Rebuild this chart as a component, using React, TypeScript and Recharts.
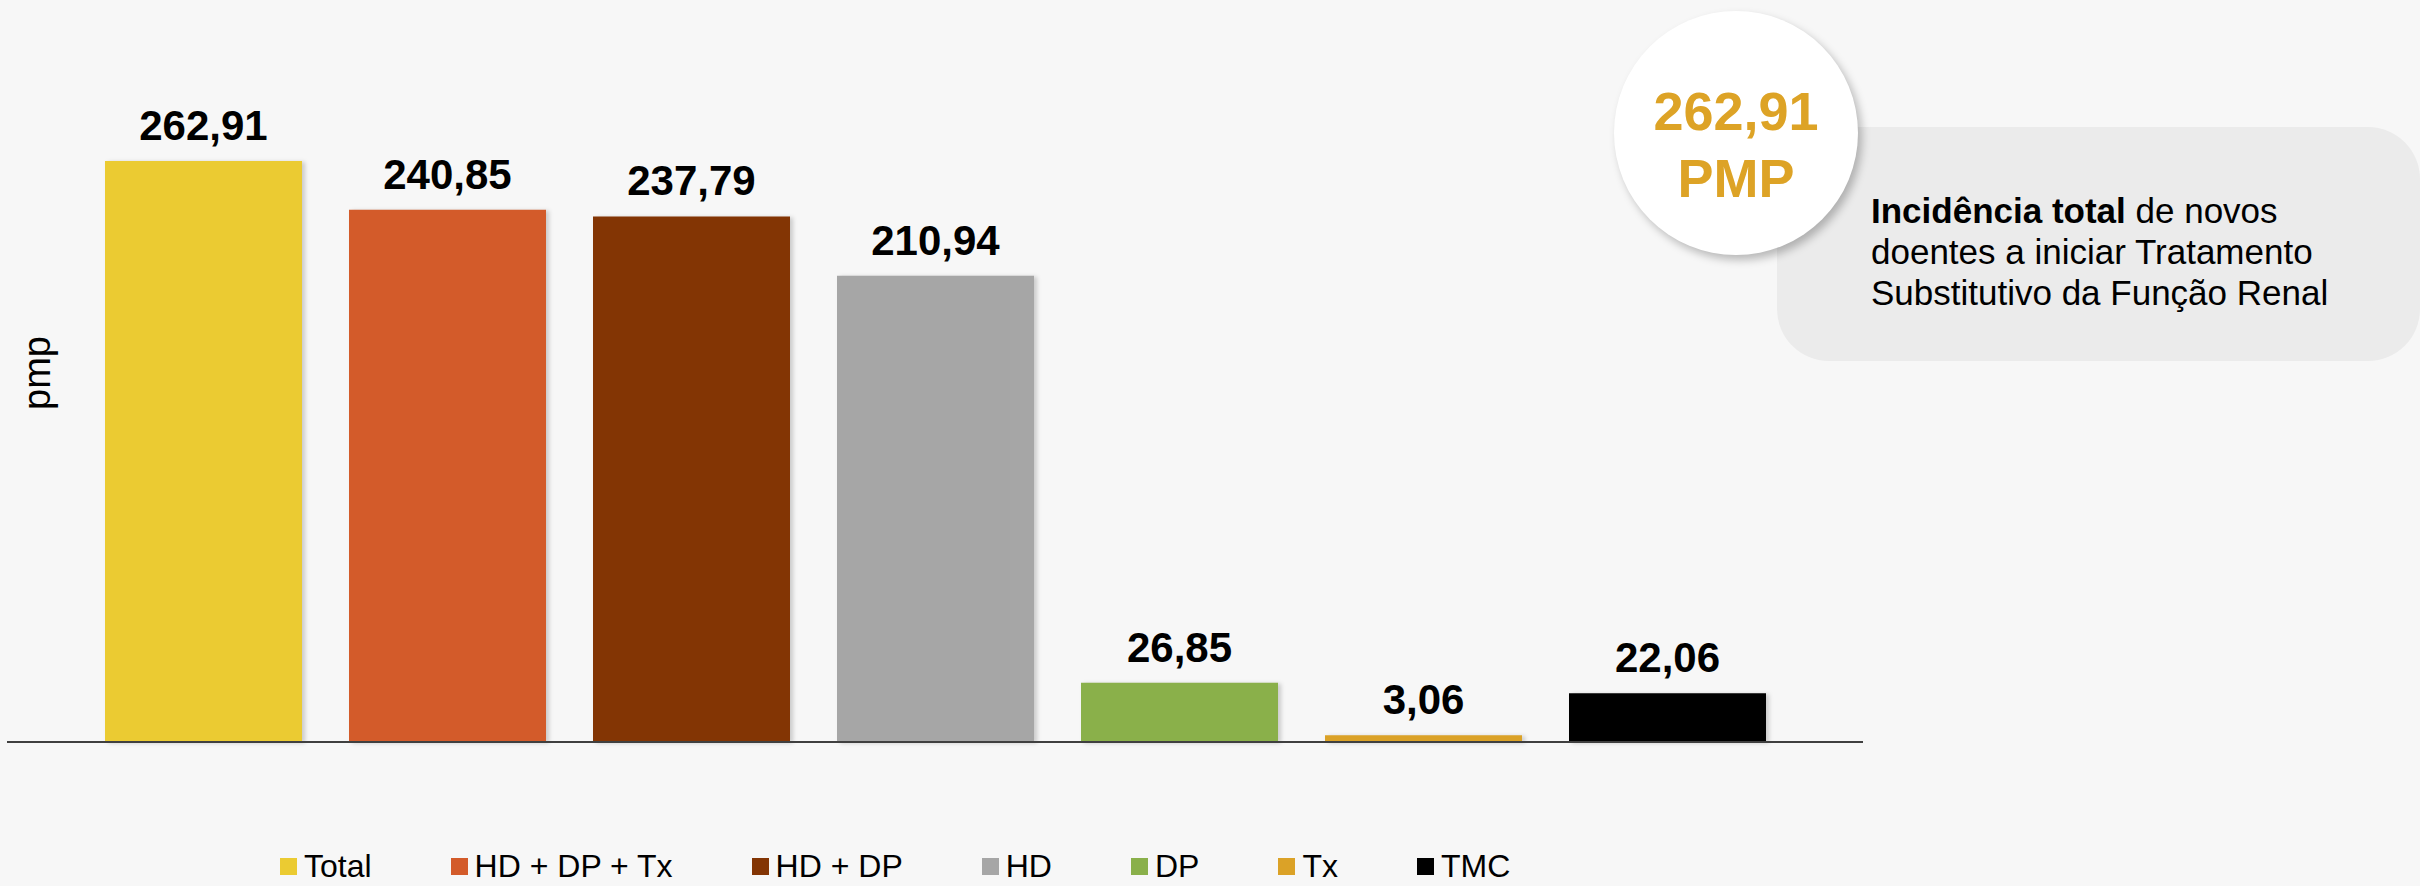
import React from 'react';
import { BarChart, Bar, XAxis, YAxis, Cell, LabelList, Legend } from 'recharts';

const categories = ['Total', 'HD + DP + Tx', 'HD + DP', 'HD', 'DP', 'Tx', 'TMC'];
const values = [262.91, 240.85, 237.79, 210.94, 26.85, 3.06, 22.06];
const colors = ['#EBCB32', '#D35B2A', '#833504', '#A6A6A6', '#8AB04A', '#DBA227', '#000000'];
const yDomain = [0, 300];

const FONT = '"Liberation Sans", Arial, sans-serif';

const data = categories.map((name, i) => ({ name, value: values[i] }));

const fmt = (v: number) => v.toFixed(2).replace('.', ',');

const renderLegend = () => (
  <div style={{ display: 'flex', alignItems: 'center', gap: 79, fontFamily: FONT, fontSize: 32, lineHeight: '36px', color: '#000' }}>
    {categories.map((c, i) => (
      <div key={c} style={{ display: 'flex', alignItems: 'center' }}>
        <span style={{ width: 17, height: 17, background: colors[i], marginRight: 7, display: 'inline-block' }} />
        <span style={{ whiteSpace: 'pre' }}>{c}</span>
      </div>
    ))}
  </div>
);

export default function App() {
  return (
    <div style={{ position: 'absolute', left: 0, top: 0, width: 2420, height: 886, background: '#f7f7f7', fontFamily: FONT, overflow: 'hidden' }}>
      <BarChart
        width={2420}
        height={886}
        data={data}
        margin={{ top: 79, right: 557, left: 7, bottom: 142 }}
      >
        <XAxis
          dataKey="name"
          height={2}
          tick={false}
          tickLine={false}
          axisLine={{ stroke: '#404040', strokeWidth: 2 }}
          padding={{ left: 74, right: 74 }}
        />
        <YAxis hide domain={yDomain} />
        <Legend
          layout="horizontal"
          verticalAlign="middle"
          align="center"
          content={renderLegend}
          wrapperStyle={{ left: 280, top: 848, width: 'auto' }}
        />
        <Bar dataKey="value" barSize={197} isAnimationActive={false}>
          {data.map((d, i) => (
            <Cell key={d.name} fill={colors[i]} style={{ filter: 'drop-shadow(3px 1px 2px rgba(0,0,0,0.18))' }} />
          ))}
          <LabelList
            dataKey="value"
            position="top"
            offset={21}
            formatter={(v: any) => fmt(Number(v))}
            style={{ fontSize: 42, fontWeight: 'bold', fill: '#000', fontFamily: FONT }}
          />
        </Bar>
      </BarChart>

      <div
        style={{
          position: 'absolute', left: 37, top: 373, transform: 'translate(-50%, -50%) rotate(-90deg)',
          fontSize: 38, color: '#000', fontFamily: FONT, lineHeight: 1, whiteSpace: 'pre',
        }}
      >
        pmp
      </div>

      <div
        style={{
          position: 'absolute', left: 1777, top: 127, width: 643, height: 234,
          background: '#ebebeb', borderRadius: 52,
        }}
      />
      <div
        style={{
          position: 'absolute', left: 1871, top: 190, fontSize: 35, lineHeight: '41px',
          color: '#000', fontFamily: FONT, whiteSpace: 'pre',
        }}
      >
        <b>Incidência total</b> de novos<br />
        doentes a iniciar Tratamento<br />
        Substitutivo da Função Renal
      </div>

      <div
        style={{
          position: 'absolute', left: 1736 - 122, top: 133 - 122, width: 244, height: 244,
          borderRadius: '50%', background: '#ffffff', boxShadow: '4px 5px 8px rgba(0,0,0,0.25)',
        }}
      >
        <div
          style={{
            position: 'absolute', left: 0, width: 244, top: 67, textAlign: 'center',
            color: '#DDA326', fontWeight: 'bold', fontSize: 54, lineHeight: '67px', fontFamily: FONT,
          }}
        >
          <div>262,91</div>
          <div>PMP</div>
        </div>
      </div>
    </div>
  );
}
